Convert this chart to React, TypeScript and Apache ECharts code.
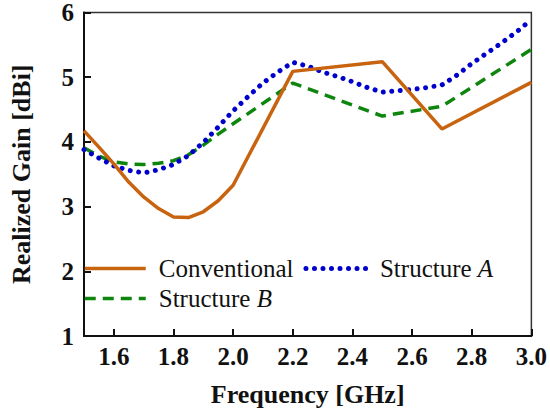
import React, { useEffect, useRef } from "react";
import * as echarts from "echarts";

const seriesNames = ["Conventional", "Structure A", "Structure B"];

const convFreq = [1.5, 1.55, 1.6, 1.65, 1.7, 1.75, 1.8, 1.85, 1.9, 1.95, 2.0, 2.2, 2.5, 2.7, 3.0];
const convGain = [4.17, 3.92, 3.66, 3.38, 3.15, 2.97, 2.84, 2.83, 2.92, 3.09, 3.33, 5.09, 5.24, 4.2, 4.92];

const aFreq = [
  1.5, 1.55, 1.6, 1.65, 1.7, 1.75, 1.8, 1.85, 1.9, 1.95, 2.0, 2.05, 2.1, 2.15, 2.2, 2.25,
  2.3, 2.35, 2.4, 2.45, 2.5, 2.55, 2.6, 2.65, 2.7, 2.75, 2.8, 2.85, 2.9, 2.95, 3.0,
];
const aGain = [
  3.88, 3.75, 3.63, 3.56, 3.52, 3.57, 3.65, 3.79, 3.99, 4.23, 4.48, 4.7, 4.91, 5.08, 5.23, 5.17,
  5.08, 5.01, 4.93, 4.84, 4.77, 4.79, 4.81, 4.84, 4.88, 5.03, 5.21, 5.37, 5.53, 5.7, 5.89,
];

const bFreq = [1.5, 1.55, 1.6, 1.65, 1.7, 1.75, 1.8, 1.85, 1.9, 1.95, 2.0, 2.2, 2.5, 2.7, 3.0];
const bGain = [3.91, 3.78, 3.69, 3.66, 3.65, 3.67, 3.71, 3.8, 3.95, 4.12, 4.28, 4.91, 4.4, 4.55, 5.43];

const xMin = 1.5;
const xMax = 3.0;
const yMin = 1;
const yMax = 6;
const yStep = 1;

const xTitle = "Frequency [GHz]";
const yTitle = "Realized Gain [dBi]";

const FONT = "'Liberation Serif', 'Times New Roman', serif";

const pairs = (xs: number[], ys: number[]) => xs.map((x, i) => [x, ys[i]]);

export default function App() {
  const ref = useRef<HTMLDivElement>(null);
  useEffect(() => {
    if (!ref.current) return;
    const chart = echarts.init(ref.current, null, { renderer: "svg" });
    const legendText = {
      fontFamily: FONT,
      fontSize: 25,
      color: "#111",
      padding: [0, 0, 0, 8],
      rich: {
        n: { fontFamily: FONT, fontSize: 25, color: "#111" },
        i: { fontFamily: FONT, fontSize: 25, color: "#111", fontStyle: "italic" },
      },
    };
    const fmt = (name: string) => {
      const parts = name.split(" ");
      if (parts.length === 2) return `{n|${parts[0]} }{i|${parts[1]}}`;
      return `{n|${name}}`;
    };
    const legendBase = {
      left: 83,
      padding: 0,
      itemWidth: 61,
      itemHeight: 14,
      itemGap: 10,
      formatter: fmt,
      textStyle: legendText,
      itemStyle: { opacity: 0, borderWidth: 0 },
      lineStyle: { width: "inherit" },
    };
    chart.setOption({
      animation: false,
      backgroundColor: "#fff",
      grid: {
        left: 68,
        right: 18,
        top: 11,
        bottom: 77,
        show: true,
        borderColor: "#333",
        borderWidth: 1.5,
        backgroundColor: "transparent",
      },
      legend: [
        { ...legendBase, data: [seriesNames[0], seriesNames[1]], top: 256 },
        { ...legendBase, data: [seriesNames[2]], top: 286 },
      ],
      xAxis: {
        type: "value",
        min: xMin,
        max: xMax,
        splitNumber: 7,
        name: xTitle,
        nameLocation: "middle",
        nameGap: 45,
        nameTextStyle: { fontFamily: FONT, fontSize: 26, fontWeight: "bold", color: "#111" },
        axisLine: { show: true, lineStyle: { color: "#111", width: 2 } },
        axisTick: { show: true, inside: true, length: 7, lineStyle: { color: "#111", width: 2 } },
        axisLabel: {
          showMinLabel: false,
          margin: 8,
          fontFamily: FONT,
          fontSize: 25,
          fontWeight: "bold",
          color: "#111",
          formatter: (v: number) => v.toFixed(1),
        },
        splitLine: { show: false },
      },
      yAxis: {
        type: "value",
        min: yMin,
        max: yMax,
        interval: yStep,
        name: yTitle,
        nameLocation: "middle",
        nameGap: 50,
        nameTextStyle: { fontFamily: FONT, fontSize: 26, fontWeight: "bold", color: "#111" },
        axisLine: { show: true, lineStyle: { color: "#111", width: 2 } },
        axisTick: { show: true, inside: true, length: 7, lineStyle: { color: "#111", width: 2 } },
        axisLabel: {
          margin: 10,
          fontFamily: FONT,
          fontSize: 25,
          fontWeight: "bold",
          color: "#111",
        },
        splitLine: { show: false },
      },
      series: [
        {
          name: seriesNames[0],
          type: "line",
          data: pairs(convFreq, convGain),
          symbol: "none",
          z: 4,
          lineStyle: { color: "#C8640F", width: 3.5, type: "solid" },
          itemStyle: { color: "#C8640F" },
        },
        {
          name: seriesNames[1],
          type: "line",
          data: pairs(aFreq, aGain),
          symbol: "none",
          z: 3,
          lineStyle: { color: "#0000CC", width: 5, type: [0.01, 8.5], cap: "round" },
          itemStyle: { color: "#0000CC" },
        },
        {
          name: seriesNames[2],
          type: "line",
          data: pairs(bFreq, bGain),
          symbol: "none",
          z: 2,
          lineStyle: { color: "#0E860E", width: 3.5, type: [11, 7] },
          itemStyle: { color: "#0E860E" },
        },
      ],
    });
    return () => chart.dispose();
  }, []);
  return <div ref={ref} style={{ width: 550, height: 413, position: "absolute", left: 0, top: 0 }} />;
}
